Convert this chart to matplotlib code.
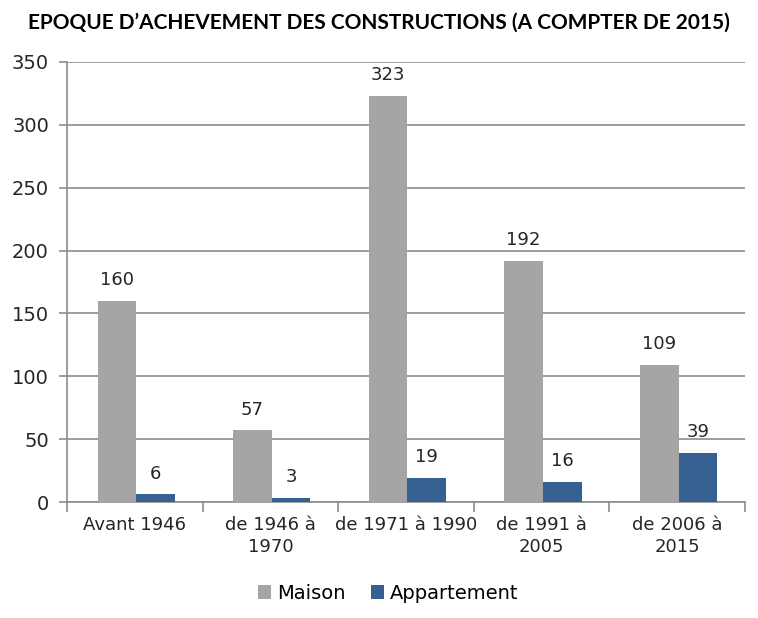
import numpy as np
import matplotlib
matplotlib.use("Agg")
import matplotlib.pyplot as plt

categories = ["Avant 1946", "de 1946 à\n1970", "de 1971 à 1990", "de 1991 à\n2005", "de 2006 à\n2015"]
maison = [160, 57, 323, 192, 109]
appartement = [6, 3, 19, 16, 39]

plt.rcParams['font.family'] = ['DejaVu Sans']

fig = plt.figure(figsize=(7.58, 6.18), dpi=100)
ax = fig.add_axes([0.0884, 0.1877, 0.8945, 0.712])

x = np.arange(len(categories))
w = 0.285
b1 = ax.bar(x - w / 2 + 0.01, maison, w, color='#A5A5A5', label='Maison', zorder=3)
b2 = ax.bar(x + w / 2 + 0.01, appartement, w, color='#376092', label='Appartement', zorder=3)

# value labels above each bar
for bars in (b1, b2):
    for r in bars:
        ax.annotate(str(int(r.get_height())), (r.get_x() + r.get_width() / 2, r.get_height()),
                    xytext=(0, 8.5), textcoords='offset points', ha='center', va='bottom',
                    fontsize=13, color='#262626')

ax.set_xlim(-0.5, len(categories) - 0.5)
ax.set_ylim(0, 350)
ax.set_yticks(range(0, 351, 50))
ax.yaxis.grid(True, color='#8C8C8C', linewidth=1.2, zorder=0)
ax.set_axisbelow(True)

ax.set_xticks(x)
ax.set_xticklabels(categories, fontsize=13, color='#262626', linespacing=1.3)
ax.tick_params(axis='x', length=0, pad=10)
ax.set_xticks(np.arange(-0.5, len(categories)), minor=True)
ax.tick_params(axis='x', which='minor', length=7, color='#8C8C8C', width=1.2)
ax.tick_params(axis='y', length=6, color='#8C8C8C', width=1.2, labelsize=14, labelcolor='#262626', pad=7)

for s in ('top', 'right'):
    ax.spines[s].set_visible(False)
for s in ('left', 'bottom'):
    ax.spines[s].set_color('#8C8C8C')
    ax.spines[s].set_linewidth(1.2)

fig.legend(loc='center', bbox_to_anchor=(0.512, 0.04), ncol=2, frameon=False, fontsize=14,
           handlelength=0.7, handleheight=0.7, handletextpad=0.3, columnspacing=1.3)

fig.text(0.5, 0.963, "EPOQUE D’ACHEVEMENT DES CONSTRUCTIONS (A COMPTER DE 2015)",
         ha='center', va='center', fontsize=15, fontweight='bold', color='black',
         family=['Lato', 'DejaVu Sans'])

fig.savefig('out.png', dpi=100)
